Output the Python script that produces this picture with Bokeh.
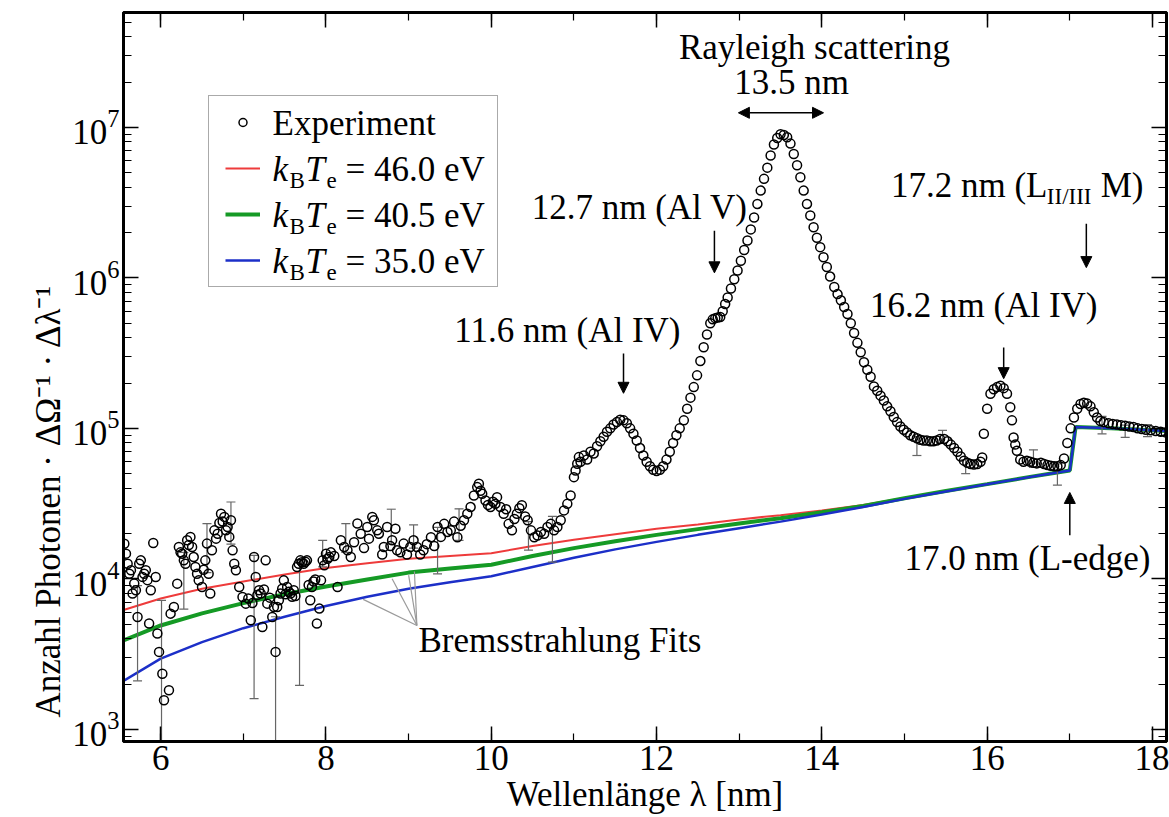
import math
from bokeh.plotting import figure
from bokeh.models import (Range1d, LinearAxis, LogAxis, SingleIntervalTicker, LogTicker, Title,
                          Label, Arrow, NormalHead, Legend, LegendItem, ColumnDataSource)
from bokeh.embed import file_html
from bokeh.resources import INLINE

FONT = "Liberation Serif"
FS = "35px"
FS_SUB = "23px"

# ---------------- data ----------------
exp_x = [5.56, 5.58, 5.60, 5.62, 5.64, 5.66, 5.68, 5.70, 5.72, 5.74, 5.76, 5.78, 5.80, 5.82, 5.84, 5.86, 5.88, 5.91, 5.94, 5.96, 5.98,
         6.02, 6.04, 6.10, 6.12, 6.16, 6.20, 6.22, 6.24, 6.26, 6.28, 6.30, 6.32, 6.34, 6.36, 6.38, 6.40, 6.42, 6.44, 6.46, 6.50,
         6.52, 6.54, 6.56, 6.58, 6.60, 6.62, 6.65, 6.67, 6.69, 6.71, 6.73, 6.75, 6.77, 6.79, 6.81, 6.83, 6.85, 6.87, 6.89, 6.91,
         6.95, 6.99, 7.03, 7.06, 7.09, 7.11, 7.13, 7.15, 7.17, 7.19, 7.21, 7.23, 7.25, 7.27, 7.29, 7.32, 7.35, 7.37, 7.39, 7.41,
         7.43, 7.45, 7.47, 7.49, 7.51, 7.53, 7.55, 7.57, 7.59, 7.61, 7.63, 7.65, 7.67, 7.69, 7.71, 7.73, 7.75, 7.77, 7.79, 7.81,
         7.83, 7.85, 7.87, 7.89, 7.92, 7.94, 7.96, 7.98, 8.00, 8.02, 8.04, 8.06, 8.10, 8.14, 8.18, 8.22, 8.26, 8.30, 8.34, 8.38,
         8.42, 8.46, 8.50, 8.52, 8.56, 8.58, 8.62, 8.64, 8.68, 8.70, 8.74, 8.78, 8.80, 8.84, 8.86, 8.90, 8.94, 8.98, 9.02, 9.06,
         9.10, 9.14, 9.18, 9.22, 9.27, 9.31, 9.35, 9.39, 9.43, 9.47, 9.51, 9.55, 9.59, 9.63, 9.67, 9.71, 9.75, 9.79, 9.83, 9.85,
         9.87, 9.89, 9.93, 9.96, 9.99, 10.02, 10.05, 10.07, 10.11, 10.15, 10.18, 10.21, 10.25, 10.28, 10.31, 10.34, 10.37, 10.41,
         10.44, 10.48, 10.52, 10.56, 10.60, 10.64, 10.68, 10.72, 10.76, 10.80, 10.84, 10.88, 10.92, 10.96, 11.00, 11.02, 11.04,
         11.06, 11.08, 11.12, 11.16, 11.20, 11.24, 11.28, 11.32, 11.36, 11.40, 11.44, 11.48, 11.52, 11.56, 11.60, 11.64, 11.68,
         11.72, 11.76, 11.80, 11.84, 11.88, 11.92, 11.96, 12.00, 12.04, 12.08, 12.12, 12.16, 12.20, 12.24, 12.28, 12.33, 12.37,
         12.41, 12.45, 12.49, 12.53, 12.57, 12.61, 12.65, 12.68, 12.71, 12.74, 12.77, 12.80, 12.83, 12.86, 12.90, 12.94, 12.98,
         13.02, 13.06, 13.10, 13.14, 13.18, 13.22, 13.26, 13.30, 13.34, 13.38, 13.42, 13.46, 13.50, 13.54, 13.58, 13.62, 13.66,
         13.70, 13.74, 13.78, 13.82, 13.86, 13.90, 13.94, 13.98, 14.02, 14.06, 14.10, 14.15, 14.19, 14.23, 14.27, 14.31, 14.35,
         14.39, 14.43, 14.47, 14.51, 14.55, 14.59, 14.63, 14.67, 14.71, 14.75, 14.79, 14.83, 14.87, 14.91, 14.95, 14.99, 15.03,
         15.07, 15.11, 15.15, 15.19, 15.23, 15.27, 15.31, 15.35, 15.39, 15.43, 15.48, 15.52, 15.56, 15.60, 15.64, 15.68, 15.72,
         15.76, 15.80, 15.84, 15.88, 15.92, 15.94, 15.96, 16.00, 16.04, 16.08, 16.12, 16.16, 16.20, 16.24, 16.28, 16.30, 16.32,
         16.34, 16.36, 16.40, 16.44, 16.48, 16.52, 16.56, 16.60, 16.65, 16.69, 16.73, 16.77, 16.81, 16.85, 16.89, 16.93, 16.97,
         17.01, 17.05, 17.09, 17.13, 17.17, 17.21, 17.25, 17.29, 17.33, 17.37, 17.41, 17.47, 17.52, 17.57, 17.62, 17.67, 17.72,
         17.77, 17.82, 17.87, 17.92, 17.98, 18.04, 18.10, 18.16]
exp_y = [17100, 14700, 12600, 10800, 11400, 7980, 9300, 8390, 5580, 12600, 13270, 10300, 10820, 11400, 9800, 5050, 8390, 17300, 10280, 4330, 3270,
         2340, 1560, 1820, 5870, 6500, 9290, 16290, 15000, 14690, 13270, 12610, 18030, 16800, 18970, 16290, 13960, 12000, 10820, 9770, 8830,
         11500, 13270, 17140, 10820, 7980, 15500, 21000, 18500, 19950, 23500, 27100, 24000, 25800, 21000, 22100, 19000, 24500, 15460, 12610, 11400,
         8830, 7580, 6840, 7400, 5310, 6900, 13960, 10280, 7800, 8390, 7980, 4790, 8500, 13270, 6840, 7500, 5580, 6500, 3270, 6500,
         7200, 7980, 8600, 9770, 7900, 8830, 8200, 7980, 7600, 8390, 7700, 11990, 12600, 13270, 12900, 12610, 13000, 13270, 9100, 7200,
         8830, 9600, 9900, 5050, 6340, 9770, 13270, 12300, 14690, 13600, 13960, 15000, 14200, 8830, 18030, 16290, 15500, 13960, 17500, 23300,
         19950, 16000, 22100, 18500, 25800, 24500, 21000, 19950, 14500, 16290, 22100, 16500, 18030, 21500, 15460, 15000, 17140, 14500, 16290, 18030,
         16290, 14500, 15500, 17000, 18900, 16500, 22100, 19000, 23200, 20500, 21000, 24000, 18900, 22500, 24500, 27100, 30000, 35800, 40700, 42800,
         38500, 36800, 33200, 31000, 30000, 32500, 31500, 34900, 30000, 27100, 29000, 23200, 21000, 25000, 27100, 29500, 30800, 26000,
         24500, 21000, 18900, 19400, 20500, 19900, 22100, 23200, 21000, 22100, 24500, 28500, 31500, 35800, 47400, 52500, 58200,
         64400, 60000, 66000, 62000, 70000, 68000, 76000, 82000, 88000, 95000, 100000, 106000, 110000, 114000, 113000, 108000, 100000,
         92000, 83000, 74000, 66000, 60000, 56000, 53000, 52000, 53000, 56000, 62000, 70000, 80000, 90000, 100000, 113000, 135000,
         160000, 188000, 225000, 280000, 346000, 420000, 500000, 530000, 540000, 545000, 550000, 600000, 670000, 740000, 850000, 980000, 1120000,
         1300000, 1530000, 1770000, 2100000, 2520000, 3100000, 3800000, 4550000, 5400000, 6500000, 7700000, 8500000, 9000000, 8900000, 8600000, 7800000, 6650000,
         5600000, 4660000, 3800000, 3100000, 2600000, 2170000, 1850000, 1600000, 1370000, 1180000, 1020000, 870000, 780000, 710000, 640000, 576000, 500000,
         430000, 370000, 320000, 275000, 245000, 220000, 190000, 178000, 165000, 153000, 140000, 130000, 119000, 110000, 103000, 98000, 94000,
         90000, 88000, 86000, 84000, 83000, 83000, 82000, 82000, 83000, 85000, 85000, 82000, 78000, 74000, 70000, 65000, 61000,
         59000, 58000, 57500, 58000, 60000, 64000, 92000, 135000, 170000, 182000, 188000, 192000, 185000, 170000, 138000, 113000, 87000,
         78000, 71000, 62000, 60000, 61000, 60000, 59000, 58500, 59000, 58000, 57000, 56500, 56000, 56000, 57000, 63000, 80000,
         100000, 118000, 135000, 145000, 148000, 146000, 140000, 128000, 118000, 112000, 110000, 108000, 107000, 106000, 105000, 104000, 103000,
         102000, 100000, 99000, 98000, 97000, 96000, 95000, 94000]

err_x = [5.72, 6.01, 6.28, 6.56, 6.85, 7.13, 7.39, 7.68, 7.96, 8.24, 8.79, 9.06, 9.35, 9.61, 10.45, 10.74,
         15.15, 15.46, 15.74, 16.56, 16.85, 17.39, 17.67, 17.94]
err_lo = [2100, 500, 6300, 11000, 17000, 1600, 500, 1960, 12000, 15000, 17000, 16000, 10800, 18000, 15500, 12900,
          66000, 80000, 50000, 55000, 42000, 92000, 87000, 88000]
err_hi = [9000, 7200, 15000, 23300, 32400, 14300, 5600, 13300, 18000, 23300, 29000, 22800, 22000, 29200, 24000, 26000,
          88000, 97000, 62000, 72000, 58000, 120000, 105000, 106000]

fit_x = [5.55, 6.0, 6.5, 7.0, 7.5, 8.0, 8.5, 9.0, 9.5, 10.0, 10.5, 11.0, 11.5, 12.0, 12.5, 13.0, 13.5,
         14.0, 14.5, 15.0, 15.5, 16.0, 16.5, 17.0, 17.07, 17.5, 18.17]
fit_460 = [6200, 7400, 8600, 9600, 10700, 11800, 12700, 13600, 14200, 14800, 16500, 18200, 19800, 21500, 23000, 24800, 26500,
           28500, 31000, 34500, 38500, 42700, 47500, 52500, 102000, 100000, 96000]
fit_405 = [3900, 4900, 5900, 6900, 7900, 8900, 9900, 11000, 11700, 12400, 14200, 16000, 17800, 19600, 21400, 23300, 25300,
           27700, 30500, 34300, 38300, 42600, 47400, 52500, 102000, 100000, 96000]
fit_350 = [2100, 2950, 3800, 4700, 5600, 6600, 7600, 8600, 9500, 10400, 12000, 13800, 15700, 17600, 19600, 21700, 24000,
           26800, 30000, 34000, 38000, 42500, 47300, 52500, 102000, 100000, 96000]

x_ticks_major = 2
x_min, x_max = 5.55, 18.17
y_min, y_max = 830, 5.8e7

# ---------------- figure ----------------
p = figure(frame_width=1043, frame_height=729, x_range=Range1d(x_min, x_max), y_range=Range1d(y_min, y_max),
           y_axis_type="log", output_backend="svg", toolbar_location=None,
           min_border_left=123, min_border_right=3, min_border_top=12, min_border_bottom=60,
           background_fill_color="white", border_fill_color="white")
p.grid.visible = False
p.outline_line_color = "black"
p.outline_line_width = 3


def style_axis(ax, labels=True):
    ax.axis_line_width = 3
    ax.axis_line_color = "black"
    ax.major_tick_in = 15
    ax.major_tick_out = 0
    ax.minor_tick_in = 8
    ax.minor_tick_out = 0
    ax.major_tick_line_width = 1.5
    ax.minor_tick_line_width = 1.2
    ax.major_tick_line_color = "black"
    ax.minor_tick_line_color = "black"
    ax.major_label_text_font = FONT
    ax.axis_label_text_font = FONT
    ax.axis_label_text_font_style = "normal"
    ax.axis_label_text_color = "black"
    ax.axis_label_text_font_size = FS
    if labels:
        ax.major_label_text_color = "black"
        ax.major_label_text_font_size = FS
        ax.major_label_standoff = 4
    else:
        ax.major_label_text_color = None
        ax.major_label_text_font_size = "1px"
        ax.major_label_standoff = 0


p.xaxis.ticker = SingleIntervalTicker(interval=x_ticks_major, num_minor_ticks=2)
p.yaxis.ticker = LogTicker(num_minor_ticks=10)
style_axis(p.xaxis[0])
style_axis(p.yaxis[0])
p.xaxis.axis_label = "Wellenlänge λ [nm]"
p.xaxis.axis_label_standoff = 2

top = LinearAxis(ticker=SingleIntervalTicker(interval=x_ticks_major, num_minor_ticks=2))
style_axis(top, labels=False)
p.add_layout(top, "above")
right = LogAxis(ticker=LogTicker(num_minor_ticks=10))
style_axis(right, labels=False)
p.add_layout(right, "right")

# y-axis title (placed as a side title so it can sit low like in the reference)
p.add_layout(Title(text="Anzahl Photonen · ΔΩ⁻¹ · Δλ⁻¹", align="left", offset=24,
                   text_font=FONT, text_font_size=FS, text_font_style="normal",
                   text_color="black", standoff=4), "left")

# fits
r_red = p.line(fit_x, fit_460, line_color="#ee3b3b", line_width=2)
r_green = p.line(fit_x, fit_405, line_color="#159a25", line_width=4)
r_blue = p.line(fit_x, fit_350, line_color="#1c2fc8", line_width=2.5)

# error bars
esrc = ColumnDataSource(dict(x=err_x, lo=err_lo, hi=err_hi))
p.segment(x0="x", y0="lo", x1="x", y1="hi", source=esrc, line_color="#666666", line_width=1.2)
p.scatter(x="x", y="lo", source=esrc, marker="dash", size=9, line_color="#666666", line_width=1.2)
p.scatter(x="x", y="hi", source=esrc, marker="dash", size=9, line_color="#666666", line_width=1.2)

# experiment
r_exp = p.scatter(exp_x, exp_y, marker="circle", size=9, fill_color=None, line_color="black", line_width=1.5)

# legend (samples drawn by bokeh, texts as labels)
legend = Legend(items=[LegendItem(label="Experiment", renderers=[r_exp]),
                       LegendItem(label="T46", renderers=[r_red]),
                       LegendItem(label="T40", renderers=[r_green]),
                       LegendItem(label="T35", renderers=[r_blue])],
                location=(85, 454), padding=16, spacing=26, glyph_height=20, glyph_width=35,
                label_height=20, label_width=209, label_standoff=12, margin=0,
                label_text_font_size="10px", label_text_color=None,
                border_line_color="#555555", border_line_width=1.5,
                background_fill_color="white", background_fill_alpha=0.0)
p.add_layout(legend)


def lab(x, y, text, size=FS, align="left", style="normal", angle=0.0):
    p.add_layout(Label(x=x, y=y, x_units="screen", y_units="screen", text=text, text_font=FONT,
                       text_font_size=size, text_font_style=style, text_align=align,
                       text_baseline="middle", text_color="black", angle=angle))


lab(149, 618, "Experiment")
for row_y, val in [(572, "= 46.0 eV"), (526, "= 40.5 eV"), (480, "= 35.0 eV")]:
    lab(149, row_y, "k", style="italic")
    lab(166, row_y - 11, "B", size=FS_SUB)
    lab(182, row_y, "T", style="italic")
    lab(203, row_y - 11, "e", size=FS_SUB)
    lab(222, row_y, val)

# annotations
lab(691, 694, "Rayleigh scattering", align="center")
lab(668, 659, "13.5 nm", align="center")
lab(624, 534, "12.7 nm (Al V)", align="right")
lab(557, 411, "11.6 nm (Al IV)", align="right")
lab(974, 436, "16.2 nm (Al IV)", align="right")
lab(1020, 556, "M)", align="right")
lab(968, 545, "II/III", size=FS_SUB, align="right")
lab(924, 556, "17.2 nm (L", align="right")
lab(1027, 183, "17.0 nm (L-edge)", align="right")
lab(295, 101, "Bremsstrahlung Fits")


def arrow(x0, y0, x1, y1, start=False):
    head = NormalHead(size=11, fill_color="black", line_color="black", line_width=1)
    shead = NormalHead(size=11, fill_color="black", line_color="black", line_width=1) if start else None
    p.add_layout(Arrow(x_start=x0, y_start=y0, x_end=x1, y_end=y1, end=head, start=shead,
                       line_color="black", line_width=1.5))


arrow(11.6, 3.14e5, 11.6, 1.71e5)
arrow(12.7, 2.06e6, 12.7, 1.08e6)
arrow(16.2, 3.44e5, 16.2, 2.14e5)
arrow(17.2, 2.29e6, 17.2, 1.17e6)
arrow(17.0, 1.95e4, 17.0, 3.75e4)
arrow(12.99, 1.25e7, 14.02, 1.25e7, start=True)

for ex, ey in [(8.45, 7300), (8.8, 10000), (9.0, 10600), (9.07, 11200)]:
    p.add_layout(Arrow(x_start=9.1, y_start=4900, x_end=ex, y_end=ey, end=None,
                       line_color="#9a9a9a", line_width=1.2))

open("out.html", "w").write(file_html(p, INLINE))
